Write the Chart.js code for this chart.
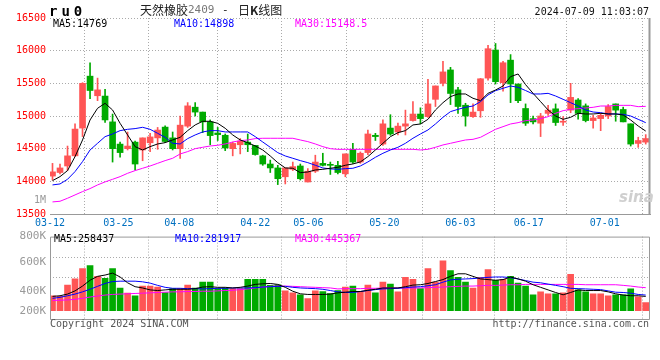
<!DOCTYPE html>
<html>
<head>
<meta charset="utf-8">
<script src="https://cdn.jsdelivr.net/npm/chart.js@4.4.1/dist/chart.umd.min.js"></script>
<style>
body { margin: 0; background: #fff; }
#wrap { position: relative; width: 660px; height: 360px; overflow: hidden; font-family: "DejaVu Sans Mono", monospace; }
canvas { position: absolute; left: 0; }
#priceChart { top: 0; }
#volChart { top: 226px; }
.t { position: absolute; white-space: nowrap; font-size: 10px; line-height: 12px; }
</style>
</head>
<body>
<div id="wrap">
  <canvas id="priceChart" width="660" height="232"></canvas>
  <canvas id="volChart" width="660" height="114"></canvas>

  <div class="t" style="left:49px;top:4px;font-size:14px;line-height:14px;font-weight:bold;letter-spacing:4px;">ru0</div>
  <div class="t" style="left:140px;top:3px;font-size:12px;line-height:14px;font-family:'Noto Sans CJK SC';color:#222;">天然橡胶</div>
  <div class="t" style="left:188px;top:4px;font-size:11px;color:#777;">2409</div>
  <div class="t" style="left:222px;top:4px;font-size:11px;color:#222;">-</div>
  <div class="t" style="left:238px;top:3px;font-size:12px;line-height:14px;font-family:'Noto Sans CJK SC';color:#222;">日<b>K</b>线图</div>
  <div class="t" style="right:11px;top:6px;color:#111;">2024-07-09 11:03:07</div>

  <div class="t" style="left:53px;top:18px;color:#000;">MA5:14769</div>
  <div class="t" style="left:174px;top:18px;color:#0000ff;">MA10:14898</div>
  <div class="t" style="left:295px;top:18px;color:#ff00ff;">MA30:15148.5</div>

  <div class="t" style="left:54px;top:233px;color:#000;">MA5:258437</div>
  <div class="t" style="left:175px;top:233px;color:#0000ff;">MA10:281917</div>
  <div class="t" style="left:295px;top:233px;color:#ff00ff;">MA30:445367</div>

  <div class="t" style="left:50px;top:318px;color:#555;">Copyright 2024 SINA.COM</div>
  <div class="t" style="right:11px;top:318px;color:#555;">http://finance.sina.com.cn</div>
  <div class="t" style="left:619px;top:189px;font-family:'DejaVu Sans';font-size:15px;line-height:16px;font-weight:bold;font-style:italic;color:#cfcfcf;">sina</div>
</div>

<script>
// date ticks (index of the trading day each label belongs to)
let dateLabels = ['03-12', '03-25', '04-08', '04-22', '05-06', '05-20', '06-03', '06-17', '07-01'];
let dateIdx = [0, 9, 17, 27, 34, 44, 54, 63, 73];

// daily candles, 2024-03-12 .. 2024-07-09
let open = [14080, 14135, 14235, 14390, 14815, 15610, 15310, 15305, 14910, 14570,
    14500, 14600, 14480, 14590, 14665, 14830, 14665, 14500, 14845, 15135,
    15060, 14910, 14740, 14705, 14500, 14560, 14600, 14550, 14390, 14265,
    14205, 14070, 14185, 14235, 13990, 14155, 14275, 14255, 14245, 14115,
    14490, 14295, 14440, 14705, 14570, 14815, 14755, 14845, 14930, 15030,
    14990, 15255, 15500, 15705, 15400, 15165, 14990, 15080, 15580, 16010,
    15510, 15855, 15490, 15115, 14960, 14890, 15040, 15110, 14905, 15090,
    15245, 15155, 14930, 14960, 15000, 15185, 15100, 14880, 14580, 14600];
let high = [14275, 14265, 14540, 14880, 15510, 15815, 15580, 15410, 15030, 14600,
    14755, 14615, 14665, 14735, 14825, 14850, 14755, 15000, 15205, 15205,
    15060, 14940, 14825, 14725, 14600, 14655, 14725, 14550, 14400, 14325,
    14245, 14205, 14295, 14265, 14195, 14400, 14430, 14295, 14305, 14420,
    14580, 14450, 14785, 14735, 14940, 15020, 14890, 15090, 15220, 15125,
    15560, 15460, 15835, 15745, 15440, 15195, 15185, 15575, 16080, 16110,
    15835, 15940, 15490, 15185, 15000, 15040, 15165, 15185, 14990, 15500,
    15265, 15185, 15010, 15040, 15175, 15185, 15135, 14880, 14675, 14715];
let low = [14020, 14115, 14165, 14380, 14685, 15265, 15235, 14900, 14295, 14370,
    14480, 14175, 14315, 14455, 14490, 14590, 14480, 14350, 14825, 15000,
    14745, 14560, 14625, 14470, 14390, 14420, 14455, 14400, 14245, 14135,
    13950, 13960, 14165, 14020, 13990, 14135, 14235, 14105, 14115, 14070,
    14275, 14275, 14410, 14625, 14550, 14705, 14710, 14710, 14920, 14880,
    14980, 15145, 15460, 15175, 15040, 14845, 14980, 14980, 15550, 15490,
    15380, 15205, 15205, 14855, 14880, 14685, 15010, 14855, 14855, 15050,
    14950, 14910, 14815, 14775, 14960, 14920, 14910, 14540, 14520, 14570];
let close = [14145, 14205, 14390, 14800, 15500, 15390, 15400, 14940, 14500, 14440,
    14540, 14265, 14665, 14680, 14785, 14610, 14500, 14860, 15155, 15060,
    14910, 14700, 14715, 14510, 14580, 14615, 14560, 14410, 14265, 14205,
    14040, 14205, 14225, 14040, 14155, 14295, 14245, 14245, 14135, 14420,
    14295, 14430, 14725, 14685, 14880, 14725, 14845, 14880, 15030, 14960,
    15185, 15460, 15675, 15345, 15145, 15000, 15060, 15570, 16030, 15525,
    15815, 15490, 15235, 14890, 14910, 15000, 15090, 14900, 14920, 15285,
    15040, 14930, 14970, 15010, 15145, 15090, 14910, 14570, 14625, 14655];

// moving averages as drawn
let ma5 = [14011, 14072, 14164, 14378, 14633, 14939, 15118, 15194, 15092, 14888,
    14710, 14531, 14480, 14531, 14572, 14592, 14633, 14674, 14776, 14863,
    14919, 14919, 14888, 14812, 14710, 14633, 14592, 14541, 14480, 14388,
    14286, 14205, 14200, 14133, 14143, 14174, 14184, 14200, 14215, 14246,
    14266, 14297, 14378, 14480, 14582, 14684, 14745, 14776, 14863, 14878,
    14949, 15092, 15204, 15296, 15337, 15337, 15271, 15235, 15347, 15398,
    15459, 15602, 15643, 15480, 15347, 15220, 15092, 15000, 14949, 14980,
    15041, 15031, 15031, 15041, 15031, 15031, 15015, 14939, 14847, 14769];
let ma10 = [13945, 13960, 14031, 14149, 14302, 14480, 14582, 14684, 14725, 14776,
    14796, 14807, 14827, 14796, 14735, 14674, 14582, 14572, 14654, 14710,
    14756, 14776, 14776, 14756, 14756, 14756, 14756, 14684, 14602, 14521,
    14439, 14388, 14353, 14317, 14286, 14246, 14205, 14190, 14184, 14194,
    14200, 14235, 14297, 14368, 14429, 14480, 14521, 14582, 14659, 14725,
    14786, 14878, 14980, 15067, 15102, 15133, 15153, 15220, 15322, 15388,
    15424, 15459, 15439, 15390, 15337, 15337, 15347, 15306, 15255, 15204,
    15153, 15092, 15061, 15051, 15031, 15031, 15026, 15000, 14949, 14898];
let ma30 = [13685, 13695, 13741, 13792, 13843, 13889, 13945, 13991, 14031, 14072,
    14123, 14164, 14200, 14235, 14276, 14317, 14353, 14419, 14455, 14500,
    14521, 14541, 14552, 14572, 14602, 14623, 14633, 14654, 14659, 14659,
    14659, 14659, 14659, 14633, 14608, 14572, 14531, 14500, 14490, 14490,
    14490, 14490, 14490, 14490, 14490, 14490, 14490, 14490, 14490, 14480,
    14490, 14521, 14557, 14582, 14608, 14633, 14643, 14674, 14735, 14796,
    14837, 14878, 14898, 14929, 14939, 14959, 14990, 15041, 15082, 15102,
    15112, 15123, 15133, 15153, 15153, 15163, 15163, 15163, 15143, 15148];

// volume and its moving averages
let vol = [270000, 259000, 456000, 563000, 744000, 794000, 608000, 575000, 744000, 406000,
    315000, 270000, 439000, 439000, 422000, 327000, 394000, 394000, 456000, 406000,
    507000, 507000, 394000, 406000, 394000, 394000, 558000, 558000, 558000, 451000,
    462000, 355000, 321000, 287000, 220000, 355000, 344000, 310000, 361000, 422000,
    439000, 349000, 456000, 321000, 507000, 473000, 338000, 591000, 558000, 394000,
    744000, 507000, 879000, 710000, 591000, 507000, 406000, 591000, 727000, 541000,
    558000, 608000, 490000, 439000, 287000, 338000, 304000, 304000, 321000, 642000,
    372000, 338000, 304000, 304000, 270000, 287000, 287000, 389000, 253000, 152000];
let vma5 = [259000, 270000, 299000, 355000, 439000, 541000, 608000, 631000, 665000, 597000,
    496000, 428000, 406000, 372000, 361000, 372000, 383000, 383000, 383000, 394000,
    422000, 428000, 417000, 417000, 406000, 417000, 439000, 468000, 479000, 484000,
    468000, 417000, 349000, 304000, 293000, 293000, 293000, 299000, 321000, 332000,
    344000, 344000, 366000, 383000, 406000, 406000, 406000, 428000, 456000, 462000,
    484000, 518000, 552000, 608000, 653000, 653000, 608000, 563000, 552000, 541000,
    552000, 597000, 563000, 524000, 462000, 417000, 372000, 327000, 287000, 327000,
    372000, 361000, 361000, 361000, 338000, 304000, 282000, 270000, 270000, 258437];
let vma10 = [225000, 242000, 270000, 299000, 338000, 383000, 434000, 484000, 518000, 524000,
    524000, 524000, 513000, 490000, 451000, 417000, 400000, 400000, 394000, 394000,
    389000, 394000, 400000, 400000, 406000, 406000, 406000, 411000, 422000, 428000,
    434000, 434000, 417000, 406000, 400000, 394000, 383000, 361000, 338000, 327000,
    327000, 344000, 361000, 377000, 389000, 394000, 400000, 411000, 422000, 428000,
    445000, 462000, 507000, 546000, 558000, 563000, 569000, 580000, 591000, 597000,
    597000, 586000, 563000, 535000, 507000, 496000, 473000, 451000, 428000, 400000,
    394000, 389000, 383000, 377000, 355000, 332000, 327000, 315000, 293000, 281917];
let vma30 = [186000, 192000, 197000, 208000, 225000, 248000, 265000, 282000, 293000, 299000,
    304000, 310000, 315000, 321000, 327000, 332000, 338000, 338000, 344000, 344000,
    349000, 349000, 355000, 361000, 366000, 377000, 389000, 406000, 422000, 434000,
    439000, 439000, 434000, 428000, 422000, 417000, 411000, 406000, 389000, 394000,
    394000, 394000, 400000, 400000, 406000, 406000, 406000, 406000, 406000, 406000,
    411000, 417000, 422000, 428000, 434000, 439000, 439000, 445000, 451000, 451000,
    456000, 462000, 462000, 468000, 468000, 468000, 468000, 468000, 468000, 468000,
    468000, 462000, 462000, 462000, 462000, 462000, 451000, 439000, 422000, 411000];

// axis labels
let priceTicks = [13500, 14000, 14500, 15000, 15500, 16000, 16500];
let oneMAt = 13714;            // stray "1M" label of the price axis
let volLabelAt = [0, 343000, 861900, 1301300];
let volLabels = ['200K', '400K', '600K', '800K'];
let volGridAt = [596600, 934600];

const upColor = '#ff5555';
const downColor = '#00aa00';
const gridColor = '#aaaaaa';
const monoFont = { family: 'DejaVu Sans Mono', size: 10 };
const xMin = -0.333, xMax = 79.57, gridStep = 1.012;

Chart.defaults.font.family = 'DejaVu Sans Mono';
Chart.defaults.font.size = 10;

let candleColors = open.map((o, i) => close[i] >= o ? upColor : downColor);

function pts(arr) {
    return arr.map((v, i) => ({ x: i, y: v }));
}

function maLine(arr, color, order) {
    return { type: 'line', data: pts(arr), borderColor: color, borderWidth: 1, pointRadius: 0, tension: 0, order: order };
}

function dateTicks(scale) {
    scale.ticks = dateIdx.map(i => ({ value: i === 0 ? xMin : i * gridStep + xMin }));
}

// frame lines round the plot area
const frame = {
    id: 'frame',
    afterDraw(chart, args, opts) {
        let a = chart.chartArea;
        let ctx = chart.ctx;
        ctx.save();
        ctx.strokeStyle = opts.color;
        ctx.lineWidth = opts.width;
        ctx.beginPath();
        if (opts.full) {
            ctx.rect(a.left + 0.5, a.top + 0.5, a.right - a.left - 1, a.bottom - a.top);
        } else {
            ctx.moveTo(a.right - 0.5, a.top);
            ctx.lineTo(a.right - 0.5, a.bottom);
        }
        ctx.stroke();
        ctx.restore();
    }
};

let priceChart = new Chart(document.getElementById('priceChart'), {
    type: 'bar',
    data: {
        datasets: [
            maLine(ma5, '#000000', 1),
            maLine(ma10, '#0000ff', 2),
            maLine(ma30, '#ff00ff', 3),
            {
                type: 'bar',
                data: open.map((o, i) => ({ x: i, y: [o, close[i]] })),
                backgroundColor: candleColors,
                barThickness: 6,
                minBarLength: 1,
                grouped: false,
                order: 4
            },
            {
                type: 'bar',
                data: low.map((l, i) => ({ x: i, y: [l, high[i]] })),
                backgroundColor: candleColors,
                barThickness: 1,
                grouped: false,
                order: 5
            }
        ]
    },
    options: {
        responsive: false,
        animation: false,
        events: [],
        layout: { padding: { top: 18, right: 10, left: 0, bottom: 0 } },
        plugins: {
            legend: { display: false },
            tooltip: { enabled: false },
            frame: { color: '#999999', width: 2, full: false }
        },
        scales: {
            x: {
                type: 'linear',
                min: xMin,
                max: xMax,
                offset: false,
                afterBuildTicks: dateTicks,
                afterFit: s => { s.height = 18; },
                ticks: {
                    autoSkip: false,
                    maxRotation: 0,
                    padding: 3,
                    color: '#0070c0',
                    font: monoFont,
                    callback: (v, i) => dateLabels[i]
                },
                grid: { color: gridColor, drawTicks: false },
                border: { display: true, color: '#999999', dash: [1, 2] }
            },
            y: {
                min: 13500,
                max: 16500,
                afterBuildTicks: s => {
                    s.ticks = priceTicks.concat([oneMAt]).sort((a, b) => a - b).map(v => ({ value: v }));
                },
                afterFit: s => { s.width = 50; },
                ticks: {
                    padding: 4,
                    font: monoFont,
                    color: c => c.tick && c.tick.value === oneMAt ? '#999999' : '#ff0000',
                    callback: v => v === oneMAt ? '1M' : String(v)
                },
                grid: {
                    drawTicks: false,
                    color: c => c.tick && c.tick.value === oneMAt ? 'rgba(0,0,0,0)' : gridColor
                },
                border: { display: false, dash: [1, 2] }
            }
        }
    },
    plugins: [frame]
});

let volChart = new Chart(document.getElementById('volChart'), {
    type: 'bar',
    data: {
        datasets: [
            maLine(vma5, '#000000', 1),
            maLine(vma10, '#0000ff', 2),
            maLine(vma30, '#ff00ff', 3),
            {
                type: 'bar',
                data: pts(vol),
                backgroundColor: candleColors,
                barThickness: 6,
                grouped: false,
                order: 4
            }
        ]
    },
    options: {
        responsive: false,
        animation: false,
        events: [],
        layout: { padding: { top: 8, right: 10, left: 0, bottom: 0 } },
        plugins: {
            legend: { display: false },
            tooltip: { enabled: false },
            frame: { color: '#999999', width: 1, full: true }
        },
        scales: {
            x: {
                type: 'linear',
                min: xMin,
                max: xMax,
                offset: false,
                afterBuildTicks: dateTicks,
                afterFit: s => { s.height = 21; },
                ticks: { display: false },
                grid: { color: gridColor, drawTicks: false },
                border: { display: false, dash: [1, 2] }
            },
            y: {
                min: -135200,
                max: 1301300,
                afterBuildTicks: s => {
                    s.ticks = volLabelAt.concat(volGridAt).sort((a, b) => a - b).map(v => ({ value: v }));
                },
                afterFit: s => { s.width = 50; },
                ticks: {
                    padding: 4,
                    font: { family: 'DejaVu Sans Mono', size: 11 },
                    color: '#999999',
                    callback: v => {
                        let k = volLabelAt.indexOf(v);
                        return k >= 0 ? volLabels[k] : '';
                    }
                },
                grid: {
                    drawTicks: false,
                    color: c => c.tick && volGridAt.indexOf(c.tick.value) >= 0 ? gridColor : 'rgba(0,0,0,0)'
                },
                border: { display: false, dash: [1, 2] }
            }
        }
    },
    plugins: [frame]
});
</script>
</body>
</html>
